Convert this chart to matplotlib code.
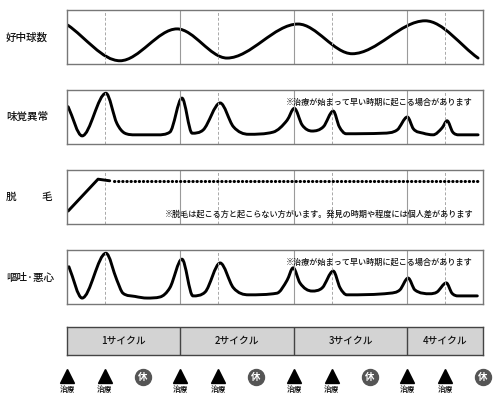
import matplotlib
matplotlib.use('Agg')
import matplotlib.pyplot as plt
from matplotlib.path import Path
from matplotlib.patches import PathPatch

plt.rcParams['font.family'] = ['Noto Sans CJK JP', 'DejaVu Sans']

# x is measured in thirds of a cycle (one cycle = 3 units)
row_labels = ['好中球数', '味覚異常', '脱毛', '嘔吐·悪心']

neut_x = [0.02, 1.40, 2.91, 4.23, 6.11, 7.54, 9.47, 10.87]
neut_y = [0.72, 0.06, 0.65, 0.11, 0.74, 0.19, 0.80, 0.11]

taste_x = [0.03, 0.40, 1.03, 1.32, 1.53, 1.80, 2.40, 2.72, 3.04, 3.31, 3.60, 4.05,
           4.40, 4.80, 5.45, 5.82, 6.01, 6.22, 6.48, 6.78, 7.04, 7.20, 7.38, 8.36,
           8.73, 9.00, 9.16, 9.42, 9.68, 9.92, 10.05, 10.20, 10.36, 10.87]
taste_y = [0.69, 0.15, 0.94, 0.38, 0.20, 0.17, 0.17, 0.22, 0.85, 0.20, 0.26, 0.76,
           0.32, 0.18, 0.22, 0.44, 0.66, 0.35, 0.24, 0.32, 0.61, 0.32, 0.19, 0.20,
           0.26, 0.50, 0.28, 0.20, 0.17, 0.30, 0.43, 0.22, 0.17, 0.17]

hair_x = [0.03, 0.82, 1.13]
hair_y = [0.24, 0.83, 0.80]
hair_dot_x = [1.24, 10.90]
hair_dot_y = [0.80, 0.80]

nausea_x = [0.05, 0.40, 1.03, 1.32, 1.48, 1.80, 2.12, 2.46, 2.72, 3.04, 3.33, 3.65,
            4.05, 4.40, 4.80, 5.55, 5.82, 5.98, 6.16, 6.48, 6.75, 7.04, 7.22, 7.40,
            8.54, 8.80, 9.02, 9.20, 9.60, 9.78, 10.03, 10.18, 10.34, 10.85]
nausea_y = [0.69, 0.11, 0.94, 0.44, 0.20, 0.14, 0.11, 0.13, 0.30, 0.83, 0.15, 0.22,
            0.76, 0.30, 0.17, 0.20, 0.44, 0.67, 0.39, 0.24, 0.30, 0.61, 0.30, 0.17,
            0.20, 0.26, 0.48, 0.26, 0.19, 0.22, 0.39, 0.20, 0.15, 0.15]

note_early = '※治療が始まって早い時期に起こる場合があります'
note_hair = '※脱毛は起こる方と起こらない方がいます。発見の時期や程度には個人差があります'

cycle_starts = [0, 3, 6, 9]
cycle_ends = [3, 6, 9, 11]
cycle_labels = ['1サイクル', '2サイクル', '3サイクル', '4サイクル']
treat_x = [0, 1, 3, 4, 6, 7, 9, 10]
rest_x = [2, 5, 8, 11]

W, H = 500, 405
fig = plt.figure(figsize=(W / 100, H / 100), dpi=100)


def fpos(left, top, w, h):
    return [left / W, 1 - (top + h) / H, w / W, h / H]


def smooth(ax, xs, ys):
    # cubic hermite through read points, drawn as a bezier path
    n = len(xs)
    m = []
    for i in range(n):
        if i == 0:
            s = (ys[1] - ys[0]) / (xs[1] - xs[0])
        elif i == n - 1:
            s = (ys[-1] - ys[-2]) / (xs[-1] - xs[-2])
        else:
            d0 = (ys[i] - ys[i - 1]) / (xs[i] - xs[i - 1])
            d1 = (ys[i + 1] - ys[i]) / (xs[i + 1] - xs[i])
            if d0 * d1 <= 0:
                s = 0
            else:
                s = (d0 + d1) / 2
                lim = 3 * min(abs(d0), abs(d1))
                if abs(s) > lim:
                    s = lim if s > 0 else -lim
        m.append(s)
    verts = [(xs[0], ys[0])]
    codes = [Path.MOVETO]
    for i in range(n - 1):
        h = xs[i + 1] - xs[i]
        verts += [(xs[i] + h / 3, ys[i] + m[i] * h / 3),
                  (xs[i + 1] - h / 3, ys[i + 1] - m[i + 1] * h / 3),
                  (xs[i + 1], ys[i + 1])]
        codes += [Path.CURVE4] * 3
    ax.add_patch(PathPatch(Path(verts, codes), fill=False, lw=2.1,
                           color='black', capstyle='round', joinstyle='round'))


tops = [10, 90, 170, 250]
axes = []
for t in tops:
    ax = fig.add_axes(fpos(67, t, 416, 54))
    ax.set_xlim(0, 11)
    ax.set_ylim(0, 1)
    ax.set_xticks([])
    ax.set_yticks([])
    for sp in ax.spines.values():
        sp.set_color('#777777')
        sp.set_linewidth(1.0)
    for c in [3, 6, 9]:
        ax.axvline(c, color='#9a9a9a', lw=0.8)
    for d in [1, 4, 7, 10]:
        ax.axvline(d, color='#a8a8a8', lw=0.7, ls=(0, (3, 2)))
    axes.append(ax)

smooth(axes[0], neut_x, neut_y)
smooth(axes[1], taste_x, taste_y)
axes[2].plot(hair_x, hair_y, color='black', lw=2.1, solid_joinstyle='round',
             solid_capstyle='round')
axes[2].plot(hair_dot_x, hair_dot_y, color='black', lw=2.2, ls=(0, (0.1, 1.25)),
             dash_capstyle='round')
smooth(axes[3], nausea_x, nausea_y)

# notes
note_kw = dict(ha='right', va='center', fontsize=5.85, fontweight='medium', color='#111111')
fig.text(473 / W, 1 - 102 / H, note_early, **note_kw)
fig.text(473 / W, 1 - 214 / H, note_hair, **note_kw)
fig.text(473 / W, 1 - 262 / H, note_early, **note_kw)

# row labels
lab_kw = dict(ha='left', va='center', fontsize=7.6, fontweight='medium', color='#111111')
fig.text(6 / W, 1 - 38 / H, row_labels[0], **lab_kw)
fig.text(6 / W, 1 - 117 / H, row_labels[1], **lab_kw)
fig.text(6 / W, 1 - 197 / H, row_labels[2][0], **lab_kw)
fig.text(41 / W, 1 - 197 / H, row_labels[2][1], **lab_kw)
fig.text(6 / W, 1 - 278 / H, row_labels[3], **lab_kw)

# cycle bar
axc = fig.add_axes(fpos(67, 327, 416, 28))
axc.set_xlim(0, 11)
axc.set_ylim(0, 1)
axc.set_facecolor('#d3d3d3')
axc.set_xticks([])
axc.set_yticks([])
for sp in axc.spines.values():
    sp.set_color('#444444')
    sp.set_linewidth(1.0)
for s, e, lab in zip(cycle_starts, cycle_ends, cycle_labels):
    if s > 0:
        axc.axvline(s, color='#444444', lw=1.0)
    axc.text((s + e) / 2, 0.5, lab, ha='center', va='center', fontsize=7.0,
             fontweight='medium', color='#111111')

# treatment / rest markers
axm = fig.add_axes(fpos(67, 360, 416, 40))
axm.set_xlim(0, 11)
axm.set_ylim(0, 1)
axm.axis('off')
axm.plot(treat_x, [0.59] * len(treat_x), ls='none', marker='^', ms=10,
         color='black', clip_on=False)
for x in treat_x:
    axm.text(x, 0.24, '治療', ha='center', va='center', fontsize=5.5,
             fontweight='medium', clip_on=False)
axm.plot(rest_x, [0.58] * len(rest_x), ls='none', marker='o', ms=11.5,
         color='#555555', clip_on=False)
for x in rest_x:
    axm.text(x, 0.58, '休', ha='center', va='center', fontsize=6.8, color='white',
             fontweight='bold', clip_on=False)

fig.savefig('out.png', dpi=100, facecolor='white')
